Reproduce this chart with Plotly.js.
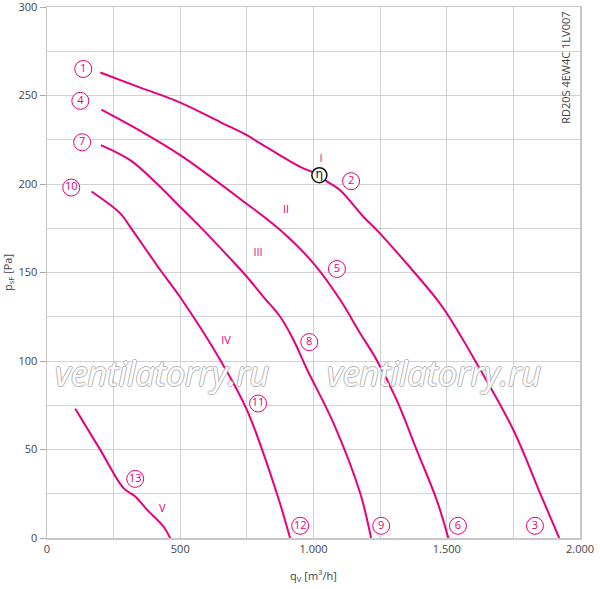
<!DOCTYPE html>
<html>
<head>
<meta charset="utf-8">
<script src="https://cdn.plot.ly/plotly-3.0.1.min.js"></script>
<style>html,body{margin:0;padding:0;background:#fff}#chart{width:600px;height:589px}</style>
</head>
<body>
<div id="chart"></div>
<script>
// Curve I (1-2-3)
var c1x = [200, 350, 500, 650, 750, 800, 950, 1022, 1050, 1100, 1187, 1250, 1462, 1500, 1612, 1750, 1850, 1922];
var c1y = [263, 254.5, 246, 235, 227.6, 223, 209.7, 205, 201.5, 196.5, 181.5, 172, 135, 127, 98.8, 61, 25.4, 0];
// Curve II (4-5-6)
var c2x = [204, 350, 500, 730, 875, 1000, 1100, 1175, 1237, 1312, 1387, 1462, 1506];
var c2y = [242, 230, 216.3, 191, 174, 155.2, 134.6, 115.7, 100.6, 78, 49.8, 21.6, 0];
// Curve III (7-8-9)
var c3x = [202, 312, 412, 500, 575, 687, 750, 812, 875, 925, 975, 1075, 1175, 1216];
var c3y = [222, 213.5, 200.3, 187, 175.8, 158, 147.6, 136.3, 125, 111.9, 95.5, 64.9, 25.4, 0];
// Curve IV (10-11-12)
var c4x = [167, 275, 312, 425, 500, 650, 750, 862, 912];
var c4y = [195.8, 183.4, 175.8, 151.4, 136, 100.6, 72.4, 25.4, 0];
// Curve V (13)
var c5x = [106, 200, 287, 331, 375, 437, 462];
var c5y = [73, 49.8, 28.2, 23.5, 16, 6.5, 0];

// Circled point labels
var numText = ['1','4','7','10','2','5','8','11','12','9','6','3','13'];
var numX = [136, 125, 132, 91, 1141, 1088, 984, 792, 950, 1254, 1542, 1831, 331];
var numY = [265, 247, 223.6, 198, 201.6, 152, 110.7, 76, 6.9, 6.9, 6.9, 6.9, 33.4];
// Speed step labels
var romText = ['I','II','III','IV','V'];
var romX = [1028, 897, 792, 672, 433];
var romY = [214, 185, 161, 111.3, 16.5];
// Efficiency point
var etaX = [1022];
var etaY = [205];

// Axis ticks
var xTickVals = [0, 500, 1000, 1500, 2000];
var xTickText = ['0', '500', '1.000', '1.500', '2.000'];
var yTickVals = [0, 50, 100, 150, 200, 250, 300];
var yTickText = ['0', '50', '100', '150', '200', '250', '300'];

var pink = '#e6007e';
function curve(x, y) {
  return {x: x, y: y, mode: 'lines', type: 'scatter', hoverinfo: 'skip', cliponaxis: false,
    line: {color: pink, width: 2, shape: 'spline', smoothing: 1}};
}
var traces = [curve(c1x, c1y), curve(c2x, c2y), curve(c3x, c3y), curve(c4x, c4y), curve(c5x, c5y),
  {x: numX, y: numY, text: numText, mode: 'markers+text', type: 'scatter', hoverinfo: 'skip',
   marker: {symbol: 'circle', size: 17, color: '#ffffff', line: {color: pink, width: 1}},
   textposition: 'middle center', textfont: {family: 'Open Sans, DejaVu Sans', size: 11, color: pink}},
  {x: romX, y: romY, text: romText, mode: 'text', type: 'scatter', hoverinfo: 'skip',
   textposition: 'middle center', textfont: {family: 'Open Sans, DejaVu Sans', size: 11, color: pink}},
  {x: etaX, y: etaY, text: ['η'], mode: 'markers+text', type: 'scatter', hoverinfo: 'skip',
   marker: {symbol: 'circle', size: 15, color: '#ffffff', line: {color: '#111111', width: 1.5}},
   textposition: 'middle center', textfont: {family: 'DejaVu Sans', size: 12, color: '#111111'}}
];

var outline = '1px 0 0 #b4b4b4, -1px 0 0 #b4b4b4, 0 1px 0 #b4b4b4, 0 -1px 0 #b4b4b4';
var layout = {
  width: 600, height: 589,
  margin: {l: 47, r: 20, t: 7, b: 51},
  paper_bgcolor: '#ffffff', plot_bgcolor: '#ffffff',
  showlegend: false,
  font: {family: 'Open Sans, DejaVu Sans', size: 11, color: '#444444'},
  xaxis: {
    range: [0, 2000], tickvals: xTickVals, ticktext: xTickText,
    showgrid: true, gridcolor: '#d2d2d2', gridwidth: 1,
    minor: {dtick: 250, tick0: 0, showgrid: true, gridcolor: '#d2d2d2', gridwidth: 1},
    showline: true, linecolor: '#c8c8c8', linewidth: 1.5, mirror: true,
    zeroline: false, ticks: '', tickfont: {size: 11, color: '#444444'},
    title: {text: 'q<sub>V</sub> [m<sup>3</sup>/h]', standoff: 17, font: {size: 11, color: '#444444'}}
  },
  yaxis: {
    range: [0, 300.02], tickvals: yTickVals, ticktext: yTickText,
    ticklabeloverflow: 'allow',
    showgrid: true, gridcolor: '#d2d2d2', gridwidth: 1,
    minor: {dtick: 25, tick0: 0, showgrid: true, gridcolor: '#d2d2d2', gridwidth: 1},
    showline: true, linecolor: '#c8c8c8', linewidth: 1.5, mirror: true,
    zeroline: false, ticks: 'outside', ticklen: 6, tickcolor: '#aaaaaa',
    tickfont: {size: 11, color: '#444444'},
    title: {text: 'p<sub>sF</sub> [Pa]', standoff: 6, font: {size: 11, color: '#444444'}}
  },
  annotations: [
    {x: 432, y: 93, xref: 'x', yref: 'y', text: 'ventilatorry.ru', showarrow: false,
     font: {family: 'Open Sans, DejaVu Sans', size: 34, style: 'italic', color: '#ffffff', shadow: outline}},
    {x: 1451, y: 93, xref: 'x', yref: 'y', text: 'ventilatorry.ru', showarrow: false,
     font: {family: 'Open Sans, DejaVu Sans', size: 34, style: 'italic', color: '#ffffff', shadow: outline}},
    {x: 0.99, y: 0.995, xref: 'paper', yref: 'paper', xanchor: 'right', yanchor: 'top',
     text: 'RD20S 4EW4C 1LV007', textangle: -90, showarrow: false,
     font: {family: 'Open Sans, DejaVu Sans', size: 11, color: '#444444'}}
  ]
};
Plotly.newPlot('chart', traces, layout, {staticPlot: true, displayModeBar: false});
</script>
</body>
</html>
